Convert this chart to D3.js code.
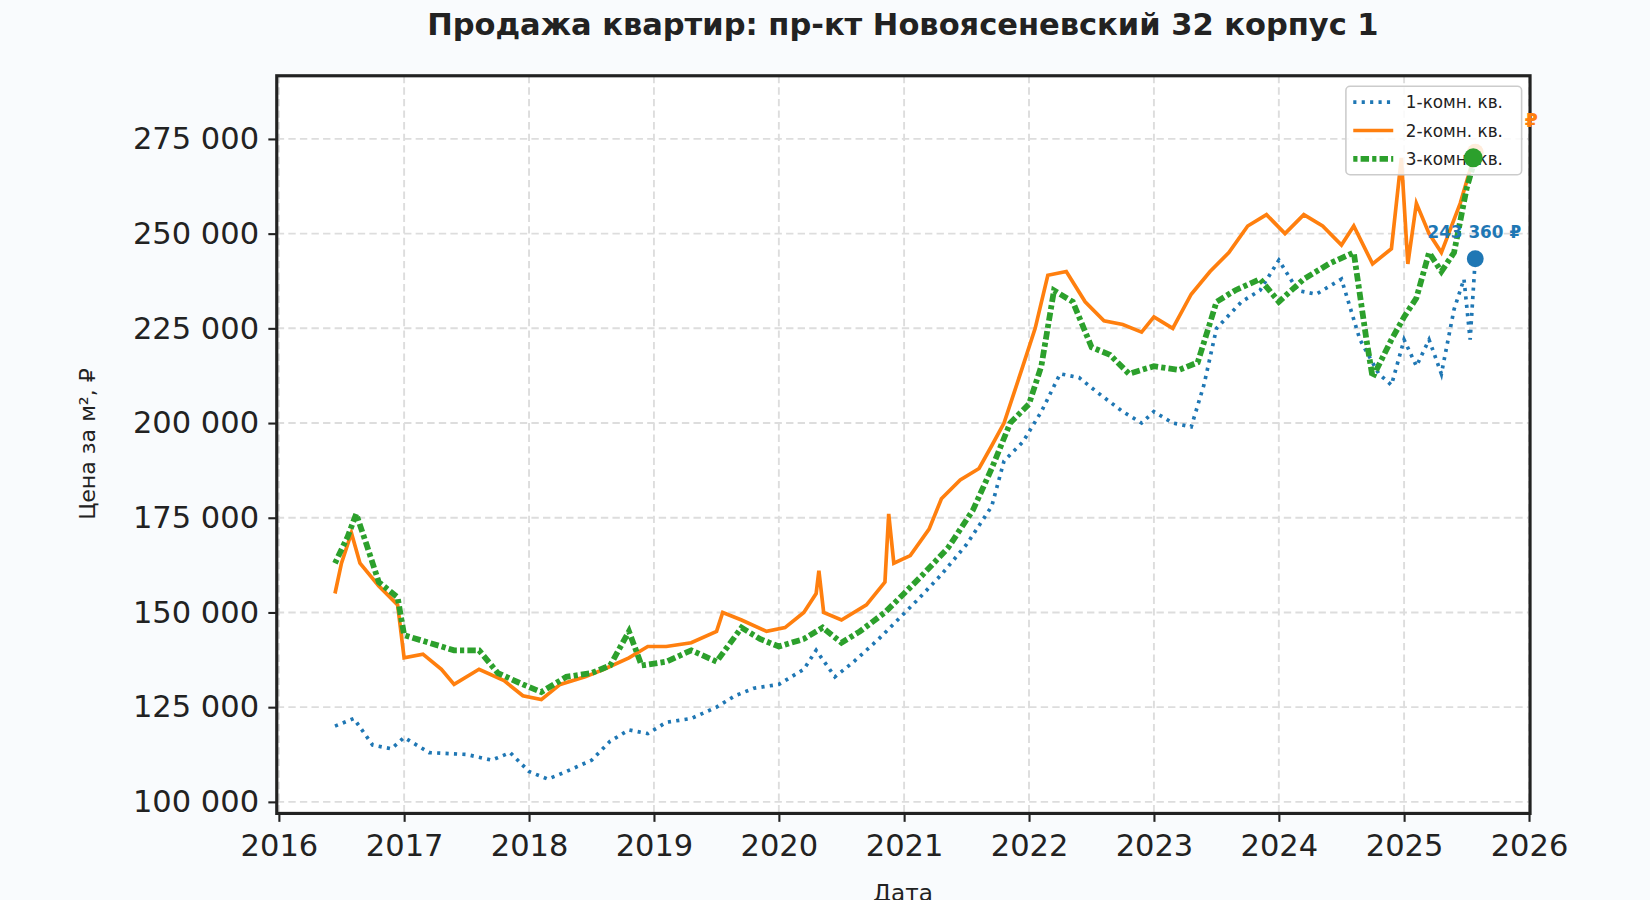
<!DOCTYPE html>
<html><head><meta charset="utf-8">
<script src="https://cdn.jsdelivr.net/npm/d3@7"></script>
<style>body{margin:0;background:#f9fbfd;font-family:"DejaVu Sans",sans-serif}</style>
</head><body><svg id="c" width="1650" height="900"></svg>
<script>
const xTicks=[2016,2017,2018,2019,2020,2021,2022,2023,2024,2025,2026];
const yTicks=[100000,125000,150000,175000,200000,225000,250000,275000];
const blueT=[2016.45,2016.6,2016.75,2016.9,2017.0,2017.2,2017.5,2017.7,2017.85,2018.0,2018.15,2018.3,2018.5,2018.65,2018.8,2018.95,2019.1,2019.3,2019.5,2019.65,2019.8,2020.0,2020.2,2020.3,2020.45,2020.6,2020.8,2020.95,2021.1,2021.3,2021.5,2021.7,2021.8,2021.95,2022.1,2022.25,2022.4,2022.55,2022.75,2022.9,2023.0,2023.15,2023.3,2023.4,2023.5,2023.7,2023.85,2024.0,2024.15,2024.3,2024.5,2024.65,2024.8,2024.9,2025.0,2025.1,2025.2,2025.3,2025.4,2025.48,2025.53,2025.57];
const blueV=[120000,122000,115000,114000,117000,113000,112500,111000,113000,108000,106000,108000,111000,116000,119000,118000,121000,122000,125000,128000,130000,131000,135000,140000,133000,137000,143000,148000,153000,160000,168000,178000,190000,195000,203000,213000,212000,208000,203000,200000,203000,200000,199000,210000,225000,232000,235000,243000,235000,234000,238000,222000,213000,210000,222000,215000,222000,213000,230000,238000,222000,243360];
const orangeT=[2016.45,2016.5,2016.58,2016.65,2016.8,2016.95,2017.0,2017.15,2017.3,2017.4,2017.6,2017.8,2017.95,2018.1,2018.25,2018.45,2018.6,2018.8,2018.95,2019.1,2019.3,2019.5,2019.55,2019.7,2019.9,2020.05,2020.2,2020.3,2020.32,2020.36,2020.5,2020.7,2020.85,2020.88,2020.92,2021.05,2021.2,2021.3,2021.45,2021.6,2021.7,2021.8,2021.95,2022.05,2022.15,2022.3,2022.45,2022.6,2022.75,2022.9,2023.0,2023.15,2023.3,2023.45,2023.6,2023.75,2023.9,2024.05,2024.2,2024.35,2024.5,2024.6,2024.75,2024.9,2024.98,2025.03,2025.1,2025.2,2025.3,2025.45,2025.57];
const orangeV=[155000,163000,171000,163000,157000,152000,138000,139000,135000,131000,135000,132000,128000,127000,131000,133000,135000,138000,141000,141000,142000,145000,150000,148000,145000,146000,150000,155000,161000,150000,148000,152000,158000,176000,163000,165000,172000,180000,185000,188000,194000,200000,215000,225000,239000,240000,232000,227000,226000,224000,228000,225000,234000,240000,245000,252000,255000,250000,255000,252000,247000,252000,242000,246000,270000,242000,258000,250000,245000,258000,271500];
const greenT=[2016.45,2016.55,2016.62,2016.7,2016.8,2016.95,2017.0,2017.2,2017.4,2017.6,2017.75,2017.95,2018.1,2018.3,2018.5,2018.65,2018.8,2018.9,2019.1,2019.3,2019.5,2019.7,2019.85,2020.0,2020.2,2020.35,2020.5,2020.65,2020.85,2021.0,2021.15,2021.35,2021.55,2021.7,2021.85,2022.0,2022.1,2022.2,2022.35,2022.5,2022.65,2022.8,2023.0,2023.2,2023.35,2023.5,2023.65,2023.85,2024.0,2024.2,2024.4,2024.6,2024.7,2024.75,2024.9,2025.0,2025.1,2025.2,2025.3,2025.4,2025.5,2025.57];
const greenV=[163000,170000,176000,168000,158000,154000,144000,142000,140000,140000,134000,131000,129000,133000,134000,136000,145000,136000,137000,140000,137000,146000,143000,141000,143000,146000,142000,145000,150000,155000,160000,167000,177000,188000,200000,205000,215000,235000,232000,220000,218000,213000,215000,214000,216000,232000,235000,238000,232000,238000,242000,245000,222000,212000,222000,228000,233000,245000,240000,245000,262000,270000];
const names=["1-комн. кв.","2-комн. кв.","3-комн. кв."];

const root=d3.select("#c");
const svg=root.append("g").attr("transform","scale(1.0523)");
const L=263,R=1454,T=72,B=773;
const toD=t=>{const y=Math.floor(t);return new Date(y,0,1+Math.round((t-y)*365));};
const x=d3.scaleTime().domain([new Date(2016,0,1),new Date(2026,0,1)]).range([265,1453]);
const y=d3.scaleLinear().domain([100000,275000]).range([762,132]);
svg.append("rect").attr("x",L).attr("y",T).attr("width",R-L).attr("height",B-T).attr("fill","#fff");
const fmt=v=>d3.format(",")(v).replace(/,/g," ");
const g=svg.append("g");
xTicks.forEach(t=>g.append("line").attr("x1",x(toD(t))).attr("x2",x(toD(t))).attr("y1",T).attr("y2",B).attr("stroke","#ddd").attr("stroke-width",1.8).attr("stroke-dasharray","7,4"));
yTicks.forEach(t=>g.append("line").attr("x1",L).attr("x2",R).attr("y1",y(t)).attr("y2",y(t)).attr("stroke","#ddd").attr("stroke-width",1.8).attr("stroke-dasharray","7,4"));
svg.append("clipPath").attr("id","cp").append("rect").attr("x",L).attr("y",T).attr("width",R-L).attr("height",B-T);
const line=d3.line().x(d=>x(toD(d[0]))).y(d=>y(d[1]));
const S=[[blueT,blueV,"#1f77b4","3,5",3.5],[orangeT,orangeV,"#ff7f0e",null,3.5],[greenT,greenV,"#2ca02c","4,3,8,3",5.5]];
const pg=svg.append("g").attr("clip-path","url(#cp)");
S.forEach(([t,v,c,da,w])=>{pg.append("path").attr("d",line(t.map((d,i)=>[d,v[i]]))).attr("fill","none").attr("stroke",c).attr("stroke-width",w).attr("stroke-dasharray",da);});
S.forEach(([t,v,c],i)=>{const n=t.length-1;svg.append("circle").attr("cx",x(toD(t[n]))).attr("cy",y(v[n])).attr("r",8).attr("fill",c);});
svg.append("text").attr("x",1401).attr("y",226).attr("text-anchor","middle").attr("fill","#1f77b4").attr("font-weight","bold").attr("font-size",16).text("243 360 ₽");
svg.append("rect").attr("x",L).attr("y",T).attr("width",R-L).attr("height",B-T).attr("fill","none").attr("stroke","#222").attr("stroke-width",3);
const ax=svg.append("g").attr("transform",`translate(0,${B})`).call(d3.axisBottom(x).tickValues(xTicks.map(toD)).tickFormat(d3.timeFormat("%Y")).tickSize(8));
ax.select(".domain").remove();
ax.selectAll("line").attr("stroke","#222").attr("stroke-width",2);
ax.selectAll("text").attr("font-size",29).attr("fill","#222").attr("font-family","DejaVu Sans").attr("dy","1em");
const ay=svg.append("g").attr("transform",`translate(${L},0)`).call(d3.axisLeft(y).tickValues(yTicks).tickFormat(fmt).tickSize(8));
ay.select(".domain").remove();
ay.selectAll("line").attr("stroke","#222").attr("stroke-width",2);
ay.selectAll("text").attr("font-size",29).attr("fill","#222").attr("font-family","DejaVu Sans").attr("dx","-0.2em");
svg.append("text").attr("x",858).attr("y",33).attr("text-anchor","middle").attr("font-size",29).attr("font-weight","bold").attr("fill","#222").text("Продажа квартир: пр-кт Новоясеневский 32 корпус 1");
svg.append("text").attr("x",858).attr("y",856).attr("text-anchor","middle").attr("font-size",22).attr("fill","#222").text("Дата");
svg.append("text").attr("transform","translate(90,422) rotate(-90)").attr("text-anchor","middle").attr("font-size",21).attr("fill","#222").text("Цена за м², ₽");
const lg=svg.append("g");
lg.append("rect").attr("x",1279).attr("y",82).attr("width",167).attr("height",84).attr("rx",4).attr("fill","rgba(255,255,255,0.85)").attr("stroke","#ccc").attr("stroke-width",1.5);
S.forEach(([t,v,c,da,w],i)=>{const yy=97+i*27;lg.append("line").attr("x1",1286).attr("x2",1324).attr("y1",yy).attr("y2",yy).attr("stroke",c).attr("stroke-width",w).attr("stroke-dasharray",da);
lg.append("text").attr("x",1336).attr("y",yy+6).attr("font-size",16).attr("fill","#222").text(names[i]);});
svg.append("circle").attr("cx",1400).attr("cy",150).attr("r",9).attr("fill","#2ca02c");
svg.append("text").attr("x",1449).attr("y",121).attr("font-size",18).attr("font-weight","bold").attr("fill","#ff7f0e").text("₽");
</script></body></html>
